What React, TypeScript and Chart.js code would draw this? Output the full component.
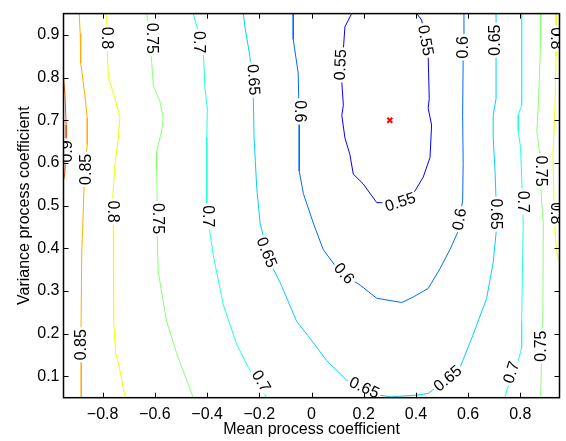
import React, { useEffect, useRef } from 'react';
import { Chart, registerables } from 'chart.js';

Chart.register(...registerables);

// ---------- data ----------
const xTickValues = [-0.8, -0.6, -0.4, -0.2, 0, 0.2, 0.4, 0.6, 0.8];
const yTickValues = [0.1, 0.2, 0.3, 0.4, 0.5, 0.6, 0.7, 0.8, 0.9];

const contour090 = [[-0.95, 0.799], [-0.944, 0.758], [-0.94, 0.689], [-0.94, 0.632], [-0.945, 0.574], [-0.95, 0.56]];
const contour085 = [[-0.89, 0.95], [-0.886, 0.903], [-0.884, 0.834], [-0.868, 0.758], [-0.859, 0.705], [-0.859, 0.643], [-0.864, 0.616], [-0.868, 0.581], [-0.871, 0.547], [-0.876, 0.459], [-0.88, 0.39], [-0.883, 0.206], [-0.882, 0.137], [-0.882, 0.05]];
const contour080a = [[-0.787, 0.95], [-0.782, 0.858], [-0.778, 0.8], [-0.753, 0.751], [-0.734, 0.708], [-0.74, 0.659], [-0.753, 0.597], [-0.762, 0.512], [-0.759, 0.459], [-0.757, 0.383], [-0.759, 0.229], [-0.75, 0.153], [-0.736, 0.121], [-0.714, 0.05]];
const contour080b = [[0.937, 0.95], [0.937, 0.85], [0.933, 0.735], [0.925, 0.62], [0.929, 0.505], [0.933, 0.436], [0.94, 0.39], [0.95, 0.367]];
const contour075a = [[-0.631, 0.95], [-0.612, 0.835], [-0.606, 0.781], [-0.58, 0.743], [-0.568, 0.705], [-0.574, 0.674], [-0.593, 0.628], [-0.593, 0.582], [-0.591, 0.513], [-0.591, 0.429], [-0.587, 0.344], [-0.555, 0.229], [-0.516, 0.153], [-0.453, 0.05]];
const contour075b = [[0.878, 0.95], [0.878, 0.89], [0.869, 0.735], [0.863, 0.674], [0.873, 0.628], [0.875, 0.581], [0.882, 0.505], [0.888, 0.459], [0.886, 0.229], [0.882, 0.171], [0.878, 0.05]];
const contour070a = [[-0.453, 0.95], [-0.434, 0.908], [-0.414, 0.858], [-0.408, 0.774], [-0.399, 0.728], [-0.401, 0.659], [-0.401, 0.505], [-0.389, 0.436], [-0.376, 0.383], [-0.338, 0.268], [-0.287, 0.176], [-0.242, 0.121], [-0.172, 0.05]];
const contour070b = [[0.805, 0.95], [0.805, 0.735], [0.792, 0.712], [0.792, 0.674], [0.801, 0.636], [0.805, 0.567], [0.811, 0.459], [0.805, 0.229], [0.805, 0.167], [0.792, 0.137], [0.748, 0.068], [0.741, 0.05]];
const contour065 = [[-0.261, 0.95], [-0.255, 0.919], [-0.236, 0.85], [-0.223, 0.751], [-0.22, 0.659], [-0.21, 0.544], [-0.197, 0.459], [-0.178, 0.413], [-0.159, 0.367], [-0.121, 0.321], [-0.057, 0.229], [-0.018, 0.199], [0.058, 0.137], [0.135, 0.091], [0.224, 0.06], [0.301, 0.052], [0.403, 0.056], [0.447, 0.06], [0.511, 0.091], [0.569, 0.121], [0.62, 0.199], [0.671, 0.283], [0.696, 0.367], [0.707, 0.436], [0.707, 0.513], [0.703, 0.582], [0.696, 0.659], [0.696, 0.712], [0.707, 0.751], [0.707, 0.85], [0.707, 0.95]];
const contour060 = [[-0.07, 0.95], [-0.07, 0.89], [-0.051, 0.811], [-0.047, 0.696], [-0.047, 0.581], [-0.031, 0.528], [0.007, 0.459], [0.045, 0.397], [0.109, 0.344], [0.186, 0.314], [0.25, 0.283], [0.346, 0.273], [0.39, 0.286], [0.447, 0.306], [0.492, 0.352], [0.531, 0.398], [0.559, 0.436], [0.569, 0.471], [0.579, 0.513], [0.581, 0.597], [0.579, 0.712], [0.581, 0.843], [0.584, 0.95]];
const contour055 = [[0.154, 0.95], [0.128, 0.919], [0.122, 0.866], [0.116, 0.789], [0.122, 0.735], [0.116, 0.712], [0.128, 0.659], [0.147, 0.62], [0.16, 0.574], [0.198, 0.551], [0.25, 0.507], [0.282, 0.507], [0.339, 0.517], [0.39, 0.528], [0.428, 0.567], [0.454, 0.613], [0.46, 0.689], [0.447, 0.728], [0.451, 0.751], [0.447, 0.85], [0.422, 0.935], [0.403, 0.95]];

const contourLevels = [0.9, 0.85, 0.8, 0.8, 0.75, 0.75, 0.7, 0.7, 0.65, 0.6, 0.55];
const contourPaths = [contour090, contour085, contour080a, contour080b, contour075a, contour075b, contour070a, contour070b, contour065, contour060, contour055];

const optimumX = [0.3];
const optimumY = [0.7];

// contour labels: level, position (data units), rotation (deg)
const labelLevels = [0.9, 0.85, 0.85, 0.8, 0.8, 0.75, 0.75, 0.7, 0.7, 0.65, 0.65, 0.7, 0.6, 0.6, 0.65, 0.55, 0.55, 0.55, 0.6, 0.6, 0.65, 0.65, 0.65, 0.7, 0.7, 0.75, 0.75, 0.8, 0.8];
const labelX = [-0.936, -0.862, -0.879, -0.787, -0.762, -0.613, -0.59, -0.433, -0.4, -0.224, -0.174, -0.195, -0.046, 0.123, 0.201, 0.113, 0.341, 0.435, 0.582, 0.569, 0.523, 0.707, 0.703, 0.806, 0.768, 0.875, 0.881, 0.935, 0.933];
const labelY = [0.627, 0.585, 0.174, 0.893, 0.486, 0.892, 0.47, 0.883, 0.475, 0.795, 0.39, 0.088, 0.721, 0.34, 0.072, 0.83, 0.507, 0.887, 0.871, 0.468, 0.094, 0.888, 0.48, 0.509, 0.109, 0.581, 0.171, 0.892, 0.482];
const labelAngle = [-90, -90, -90, 90, 90, 90, 90, 90, 90, 86, 68, 60, 90, 48, 25, -88, -18, 80, -90, -80, -40, -90, 90, 90, -72, 90, -90, 90, 90];

// ---------- styles ----------
const levelColor: Record<string, string> = {
  '0.55': '#0000ff',
  '0.6': '#006aff',
  '0.65': '#00d0ff',
  '0.7': '#20ffe0',
  '0.75': '#8aff75',
  '0.8': '#f0ff00',
  '0.85': '#ffaf00',
  '0.9': '#ff4d00',
};
const FONT = '"Liberation Sans", Arial, Helvetica, sans-serif';

const fmtTick = (v: number) => {
  if (Math.abs(v) < 1e-9) return '0';
  return (v < 0 ? '\u2212' : '') + Math.abs(v).toFixed(1);
};

const labelPlugin = {
  id: 'contourLabels',
  afterDatasetsDraw(chart: any) {
    const { ctx, chartArea } = chart;
    const xs = chart.scales.x;
    const ys = chart.scales.y;
    ctx.save();
    ctx.beginPath();
    ctx.rect(chartArea.left, chartArea.top, chartArea.right - chartArea.left, chartArea.bottom - chartArea.top);
    ctx.clip();
    ctx.font = `16px ${FONT}`;
    ctx.textAlign = 'center';
    ctx.textBaseline = 'middle';
    for (let i = 0; i < labelLevels.length; i++) {
      const px = xs.getPixelForValue(labelX[i]);
      const py = ys.getPixelForValue(labelY[i]);
      const text = String(labelLevels[i]);
      const w = ctx.measureText(text).width;
      ctx.save();
      ctx.translate(px, py);
      ctx.rotate((labelAngle[i] * Math.PI) / 180);
      ctx.fillStyle = '#ffffff';
      ctx.fillRect(-w / 2 - 2, -6, w + 4, 12);
      ctx.fillStyle = '#000000';
      ctx.fillText(text, 0, 0);
      ctx.restore();
    }
    ctx.restore();
  },
};

const framePlugin = {
  id: 'frame',
  afterDraw(chart: any) {
    const { ctx, chartArea } = chart;
    const xs = chart.scales.x;
    const ys = chart.scales.y;
    const { left, right, top, bottom } = chartArea;
    const tl = 5;
    ctx.save();
    ctx.strokeStyle = '#000';
    ctx.lineWidth = 1;
    ctx.beginPath();
    for (const v of xTickValues) {
      const p = Math.round(xs.getPixelForValue(v)) + 0.5;
      ctx.moveTo(p, bottom);
      ctx.lineTo(p, bottom - tl);
      ctx.moveTo(p, top);
      ctx.lineTo(p, top + tl);
    }
    for (const v of yTickValues) {
      const p = Math.round(ys.getPixelForValue(v)) + 0.5;
      ctx.moveTo(left, p);
      ctx.lineTo(left + tl, p);
      ctx.moveTo(right, p);
      ctx.lineTo(right - tl, p);
    }
    ctx.stroke();
    ctx.lineWidth = 1.5;
    ctx.strokeRect(left, top, right - left, bottom - top);
    ctx.restore();
  },
};

export default function App() {
  const canvasRef = useRef<HTMLCanvasElement | null>(null);

  useEffect(() => {
    const canvas = canvasRef.current;
    if (!canvas) return;

    const datasets: any[] = contourPaths.map((path, i) => ({
      type: 'line',
      data: path.map(([x, y]) => ({ x, y })),
      borderColor: levelColor[String(contourLevels[i])],
      borderWidth: 1,
      pointRadius: 0,
      tension: 0,
      fill: false,
      showLine: true,
    }));
    datasets.push({
      type: 'scatter',
      data: optimumX.map((x, i) => ({ x, y: optimumY[i] })),
      pointStyle: 'crossRot',
      pointRadius: 3.5,
      borderColor: '#ff0000',
      borderWidth: 2,
      backgroundColor: '#ff0000',
    });

    const chart = new Chart(canvas, {
      type: 'scatter',
      data: { datasets },
      options: {
        animation: false,
        responsive: false,
        events: [],
        layout: { padding: { left: 0, right: 6.5, top: 6.7, bottom: 0 } },
        plugins: { legend: { display: false }, tooltip: { enabled: false } },
        scales: {
          x: {
            type: 'linear',
            min: -0.95,
            max: 0.95,
            grid: { display: false, drawTicks: false },
            border: { display: false },
            afterBuildTicks: (s: any) => {
              s.ticks = xTickValues.map((v) => ({ value: v }));
            },
            afterFit: (s: any) => {
              s.height = 43.3;
            },
            ticks: {
              autoSkip: false,
              maxRotation: 0,
              padding: 7,
              color: '#000',
              font: { family: FONT, size: 16 },
              callback: (v: any) => fmtTick(Number(v)),
            },
            title: {
              display: true,
              text: 'Mean process coefficient',
              color: '#000',
              font: { family: FONT, size: 16 },
              padding: { top: 0, bottom: 2 },
            },
          },
          y: {
            type: 'linear',
            min: 0.05,
            max: 0.95,
            grid: { display: false, drawTicks: false },
            border: { display: false },
            afterBuildTicks: (s: any) => {
              s.ticks = yTickValues.map((v) => ({ value: v }));
            },
            afterFit: (s: any) => {
              s.width = 63.5;
            },
            ticks: {
              autoSkip: false,
              padding: 4,
              color: '#000',
              font: { family: FONT, size: 16 },
              callback: (v: any) => fmtTick(Number(v)),
            },
            title: {
              display: true,
              text: 'Variance process coefficient',
              color: '#000',
              font: { family: FONT, size: 16 },
              padding: { top: 15, bottom: 0 },
            },
          },
        },
      },
      plugins: [labelPlugin, framePlugin],
    } as any);

    return () => chart.destroy();
  }, []);

  return (
    <div style={{ position: 'fixed', left: 0, top: 0, width: 566, height: 441, background: '#fff' }}>
      <canvas ref={canvasRef} width={566} height={441} style={{ display: 'block' }} />
    </div>
  );
}
